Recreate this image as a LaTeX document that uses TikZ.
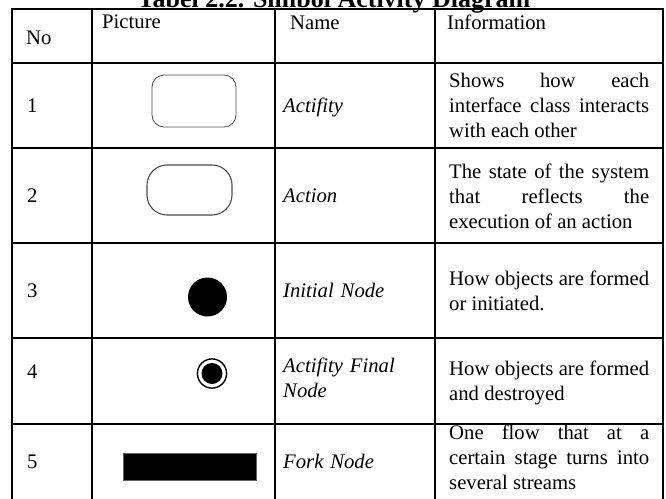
\documentclass[tikz,border=0pt]{standalone}
\usepackage{fontspec}
\setmainfont{Liberation Serif}
\begin{document}
\begin{tikzpicture}[x=1pt,y=-1pt,
  grid/.style={line width=2pt, line cap=rect},
  cell/.style={inner sep=0pt, anchor=base west, font=\fontsize{20.7}{25}\selectfont},
  info/.style={cell, text width=200pt, align=justify},
  nm/.style={cell, text width=150pt, align=left, font=\fontsize{20.7}{25}\selectfont\itshape},
  boxline/.style={draw=black!70, line width=0.8pt},
]
\useasboundingbox (0,0) rectangle (666,498);
\clip (0,0) rectangle (666,498);

% title (cut at top)
\node[inner sep=0pt, anchor=base, font=\fontsize{26}{30}\selectfont\bfseries] (title) at (334,7) {Tabel 2.2. Simbol Activity Diagram};

% table grid
\foreach \yy in {9,63,148,243,338,424} \draw[grid] (12,\yy) -- (663,\yy);
\foreach \xx in {12,92,275,435,663} \draw[grid] (\xx,9) -- (\xx,510);

% header
\node[cell] (hno) at (26,44) {No};
\node[cell] (hpic) at (102,28) {Picture};
\node[cell] (hname) at (290,29) {Name};
\node[cell] (hinfo) at (447,29) {Information};

% numbers
\node[cell] (n1) at (27,112.5) {1};
\node[cell] (n2) at (27,202) {2};
\node[cell] (n3) at (27,297) {3};
\node[cell] (n4) at (27,378) {4};
\node[cell] (n5) at (27,468) {5};

% pictures
\draw[boxline, rounded corners=12pt] (152,75) rectangle (236,127);
\draw[draw=black!70, line width=1.1pt, rounded corners=20pt] (147,165) rectangle (232,215);
\fill[black] (207.5,297) circle[radius=19.5pt];
\draw[black, line width=1.4pt] (212,373.5) circle[radius=14.6pt];
\fill[black] (212,373.5) circle[radius=10.5pt];
\filldraw[fill=black, draw=black!60, line width=0.6pt] (123,453) rectangle (256,480);

% names
\node[nm] (m1) at (283,112) {Actifity};
\node[nm] (m2) at (283,202) {Action};
\node[nm] (m3) at (283,297) {Initial Node};
\node[nm] (m4) at (283,372) {Actifity Final\\Node};
\node[nm] (m5) at (283,468) {Fork Node};

% information
\node[info] (i1) at (449,87) {Shows how each\linebreak interface class interacts\linebreak with each other};
\node[info] (i2) at (449,178) {The state of the system\linebreak that reflects the\linebreak execution of an action};
\node[info] (i3) at (449,285) {How objects are formed\linebreak or initiated.};
\node[info] (i4) at (449,375) {How objects are formed\linebreak and destroyed};
\node[info] (i5) at (449,439) {One flow that at a\linebreak certain stage turns into\linebreak several streams};
\end{tikzpicture}
\end{document}
